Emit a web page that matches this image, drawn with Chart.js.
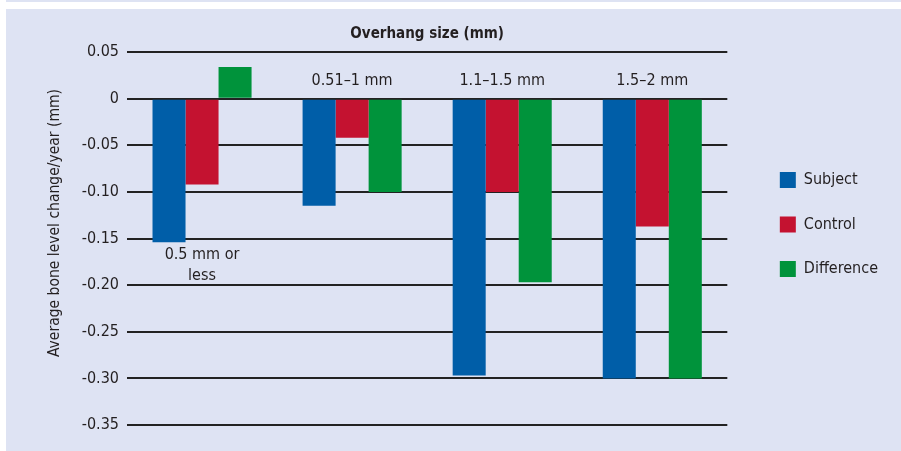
<!DOCTYPE html>
<html>
<head>
<meta charset="utf-8">
<script src="https://cdn.jsdelivr.net/npm/chart.js@4"></script>
<style>
  html, body { margin: 0; padding: 0; background: #ffffff; }
  #wrap { position: relative; width: 901px; height: 451px; }
  #topline { position: absolute; left: 6px; top: 0; width: 895px; height: 2px; background: #dee3f3; }
  #panel { position: absolute; left: 6px; top: 9px; width: 895px; height: 442px; background: #dee3f3; }
  #c { position: absolute; left: 0; top: 0; }
</style>
</head>
<body>
<div id="wrap">
  <div id="topline"></div>
  <div id="panel"></div>
  <canvas id="c" width="901" height="451"></canvas>
</div>
<script>
// gruplar (overhang size)
const categories = [['0.5 mm or', 'less'], '0.51–1 mm', '1.1–1.5 mm', '1.5–2 mm'];
// her seri icin degerler (mm/year)
const subjectValues = [-0.154, -0.115, -0.297, -0.300];
const controlValues = [-0.092, -0.042, -0.100, -0.137];
const differenceValues = [0.034, -0.100, -0.197, -0.300];
const yTicks = [0.05, 0, -0.05, -0.10, -0.15, -0.20, -0.25, -0.30, -0.35];

const FONT = "'Liberation Sans Narrow', 'DejaVu Sans Condensed', 'Liberation Sans', sans-serif";
const TEXT = '#231f20';

// kategori etiketlerini ve y eksen basligini cizen plugin
const labelPlugin = {
  id: 'catLabels',
  afterUpdate(chart, args, opts) {
    // legend kutusunu biraz saga/asagi kaydir
    const lg = chart.legend;
    lg.left += opts.legendShift[0];
    lg.right += opts.legendShift[0];
    lg.top += opts.legendShift[1];
    lg.bottom += opts.legendShift[1];
  },
  afterDatasetsDraw(chart, args, opts) {
    const ctx = chart.ctx;
    const x = chart.scales.x;
    const y = chart.scales.y;
    ctx.save();
    ctx.fillStyle = TEXT;
    ctx.font = `16px ${FONT}`;
    ctx.textAlign = 'center';
    ctx.textBaseline = 'middle';
    categories.forEach((cat, i) => {
      const lines = Array.isArray(cat) ? cat : [cat];
      const px = x.getPixelForValue(i);
      const py = y.getPixelForValue(opts.anchors[i]);
      lines.forEach((line, j) => ctx.fillText(line, px, py + j * 21.5));
    });
    // y eksen basligi
    ctx.font = `15.5px ${FONT}`;
    ctx.translate(55, 223);
    ctx.rotate(-Math.PI / 2);
    ctx.fillText(opts.yTitle, 0, 0);
    ctx.restore();
  }
};

new Chart(document.getElementById('c'), {
  type: 'bar',
  data: {
    labels: categories,
    datasets: [
      { label: 'Subject', data: subjectValues, backgroundColor: '#005ea8' },
      { label: 'Control', data: controlValues, backgroundColor: '#c41230' },
      { label: 'Difference', data: differenceValues, backgroundColor: '#00933b' }
    ]
  },
  plugins: [labelPlugin],
  options: {
    responsive: false,
    animation: false,
    layout: { padding: { top: 0, bottom: 26, left: 0, right: 37 } },
    categoryPercentage: 0.66,
    barPercentage: 1.0,
    scales: {
      x: {
        display: false
      },
      y: {
        min: -0.35,
        max: 0.05,
        afterBuildTicks: (scale) => { scale.ticks = yTicks.map(v => ({ value: v })); },
        afterFit: (scale) => { scale.width = 127; },
        grid: { color: '#222222', lineWidth: 2, drawTicks: false },
        border: { display: false },
        ticks: {
          color: TEXT,
          padding: 8,
          font: { family: FONT, size: 16 },
          callback: (v) => v === 0 ? '0' : v.toFixed(2)
        }
      }
    },
    plugins: {
      title: {
        display: true,
        text: 'Overhang size (mm)',
        fullSize: false,
        color: TEXT,
        font: { family: FONT, size: 15, weight: 'bold' },
        padding: { top: 25, bottom: 9 }
      },
      legend: {
        position: 'right',
        labels: {
          color: TEXT,
          boxWidth: 16,
          boxHeight: 16,
          padding: 28.5,
          font: { family: FONT, size: 16 }
        }
      },
      tooltip: { enabled: false },
      catLabels: {
        anchors: [-0.167, 0.019, 0.019, 0.019],
        yTitle: 'Average bone level change/year (mm)',
        legendShift: [24, 12]
      }
    }
  }
});
</script>
</body>
</html>
